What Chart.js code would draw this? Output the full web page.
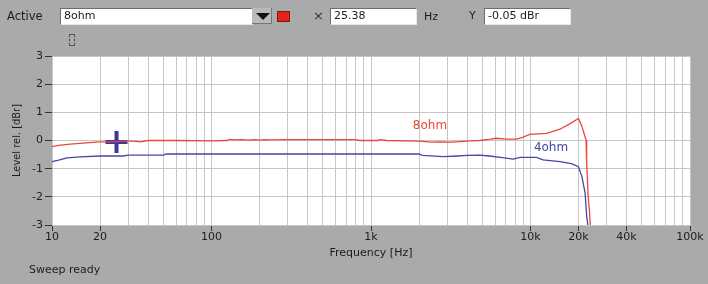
<!DOCTYPE html>
<html><head><meta charset="utf-8">
<script src="https://cdn.jsdelivr.net/npm/chart.js@4"></script>
<style>
html,body{margin:0;padding:0;}
body{width:708px;height:284px;background:#a9abab;position:relative;overflow:hidden;font-family:"DejaVu Sans",sans-serif;font-size:11px;color:#1c1c1c;}
canvas{position:absolute;left:0;top:0;}
.a{position:absolute;white-space:nowrap;line-height:14px;z-index:2;}
.box{position:absolute;z-index:2;background:#fff;border-top:1px solid #6d6d6d;border-left:1px solid #6d6d6d;border-bottom:1px solid #e8e8e8;border-right:1px solid #e8e8e8;box-sizing:border-box;padding-left:3px;line-height:14px;white-space:nowrap;}
</style></head>
<body>
<canvas id="c" width="708" height="284"></canvas>
<span class="a" style="left:7px;top:9px;font-size:11.5px">Active</span>
<div class="box" style="left:60px;top:8px;width:193px;height:17px;">8ohm</div>
<div class="a" style="left:252px;top:8px;width:20px;height:16px;background:#b9bbbb;border-right:1px solid #777;border-bottom:1px solid #777;box-sizing:border-box;"></div>
<div class="a" style="left:256px;top:13px;width:0;height:0;border-left:7px solid transparent;border-right:7px solid transparent;border-top:7px solid #111;"></div>
<div class="a" style="left:277px;top:11px;width:13px;height:11px;background:#e4231e;border:1px solid #7a1a14;box-sizing:border-box;"></div>
<span class="a" style="left:313px;top:9px;font-size:13px;color:#333">×</span>
<div class="box" style="left:330px;top:8px;width:87px;height:17px;">25.38</div>
<span class="a" style="left:424px;top:10px">Hz</span>
<span class="a" style="left:469px;top:9px">Y</span>
<div class="box" style="left:484px;top:8px;width:87px;height:17px;">-0.05 dBr</div>
<div class="a" style="left:69px;top:34px;width:6px;height:12px;border:1px dashed #555;box-sizing:border-box;"></div>
<span class="a" style="left:29px;top:263px">Sweep ready</span>
<script>
// ---- data ----
const freq8  = [10, 11, 13, 15, 18, 20, 24, 28, 32, 36, 40, 60, 100, 125, 130, 140, 155, 170, 185, 200, 215, 230, 300, 500, 800, 850, 1100, 1150, 1250, 2000, 2400, 2700, 3200, 3600, 4200, 4800, 5500, 6100, 7000, 8200, 9000, 9900, 12600, 14000, 15300, 17500, 20000, 21000, 22300, 22500, 23000, 23400, 23700];
const level8 = [-0.22, -0.17, -0.13, -0.10, -0.07, -0.05, -0.05, -0.02, -0.02, -0.05, 0, 0, -0.01, 0, 0.04, 0.02, 0.03, 0.01, 0.03, 0.01, 0.03, 0.02, 0.03, 0.03, 0.03, 0, 0, 0.03, 0, -0.02, -0.06, -0.05, -0.06, -0.04, -0.01, 0, 0.04, 0.08, 0.05, 0.05, 0.12, 0.22, 0.25, 0.33, 0.40, 0.58, 0.78, 0.50, 0.02, -0.80, -2.00, -2.47, -3.0];
const freq4  = [10, 11, 12.4, 15, 20, 28, 30, 50, 52, 100, 1000, 2000, 2100, 2840, 3500, 4000, 4800, 5500, 6500, 7790, 8600, 10900, 12000, 15300, 18000, 20000, 21000, 22000, 22500, 22900];
const level4 = [-0.75, -0.70, -0.62, -0.58, -0.55, -0.55, -0.52, -0.52, -0.48, -0.48, -0.48, -0.48, -0.53, -0.57, -0.55, -0.53, -0.52, -0.55, -0.60, -0.66, -0.60, -0.60, -0.69, -0.75, -0.82, -0.93, -1.28, -1.87, -2.70, -3.0];
const cursorFreq = 25.38;
const cursorLevel = -0.05;
const xTickValues = [10, 20, 100, 1000, 10000, 20000, 40000, 100000];
const xTickLabels = ['10', '20', '100', '1k', '10k', '20k', '40k', '100k'];
const yMin = -3, yMax = 3;
const seriesNames = ['8ohm', '4ohm'];
const seriesLabelFreq = [1830, 10500];
const seriesLabelLevel = [0.51, -0.27];
// ---------------

const RED = '#e8483a', BLUE = '#4646a6';
const gridFreqs = [];
for (let d = 10; d < 100000; d *= 10) for (let m = 1; m <= 9; m++) gridFreqs.push(m * d);
gridFreqs.push(100000);
const labelOf = v => { const i = xTickValues.findIndex(t => Math.abs(t - v) < 1e-6 * t); return i >= 0 ? xTickLabels[i] : ''; };

const plotBg = {
  id: 'plotBg',
  beforeDraw(chart) {
    const {ctx, chartArea: a} = chart;
    ctx.save(); ctx.fillStyle = '#ffffff';
    ctx.fillRect(a.left, a.top, a.right - a.left, a.bottom - a.top);
    ctx.restore();
  }
};
const seriesText = {
  id: 'seriesText',
  afterDatasetsDraw(chart) {
    const {ctx, scales: {x, y}} = chart;
    ctx.save();
    ctx.font = '12px "DejaVu Sans", sans-serif';
    ctx.textAlign = 'left'; ctx.textBaseline = 'middle';
    const cols = [RED, BLUE];
    seriesNames.forEach((n, i) => {
      ctx.fillStyle = cols[i];
      ctx.fillText(n, x.getPixelForValue(seriesLabelFreq[i]), y.getPixelForValue(seriesLabelLevel[i]));
    });
    ctx.restore();
  }
};

new Chart(document.getElementById('c'), {
  type: 'line',
  data: {
    datasets: [
      { label: seriesNames[0], data: freq8.map((f, i) => ({x: f, y: level8[i]})), borderColor: RED, borderWidth: 1.3, pointRadius: 0, tension: 0 },
      { label: seriesNames[1], data: freq4.map((f, i) => ({x: f, y: level4[i]})), borderColor: BLUE, borderWidth: 1.3, pointRadius: 0, tension: 0 },
      { label: 'cursor', data: [{x: cursorFreq, y: cursorLevel}], showLine: false, pointStyle: 'cross', pointRadius: 11, borderWidth: 4, borderColor: '#3a3a98', backgroundColor: '#3a3a98' },
      { label: 'cursorDot', data: [{x: cursorFreq, y: cursorLevel}], showLine: false, pointStyle: 'circle', pointRadius: 2.5, borderWidth: 1, borderColor: '#c07a8a', backgroundColor: '#8a80b8' }
    ]
  },
  options: {
    responsive: false, animation: false, devicePixelRatio: 1,
    layout: { padding: { top: 56, right: 18, bottom: 19, left: 0 } },
    plugins: { legend: { display: false }, tooltip: { enabled: false } },
    scales: {
      x: {
        type: 'logarithmic', min: 10, max: 100000,
        afterFit(s) { s.height = 40; },
        afterBuildTicks(s) { s.ticks = gridFreqs.map(v => ({value: v})); },
        ticks: { autoSkip: false, maxRotation: 0, minRotation: 0, padding: 0, color: '#1c1c1c',
          font: { family: '"DejaVu Sans", sans-serif', size: 11 },
          callback: v => labelOf(v) },
        grid: { color: '#c6c6c6', lineWidth: 1, tickLength: 6,
          tickColor: c => (c.tick && labelOf(c.tick.value)) ? '#333333' : 'rgba(0,0,0,0)' },
        border: { display: true, color: '#c6c6c6' },
        title: { display: true, text: 'Frequency [Hz]', color: '#1c1c1c',
          font: { family: '"DejaVu Sans", sans-serif', size: 11 }, padding: { top: 0, bottom: 5 } }
      },
      y: {
        min: yMin, max: yMax,
        afterFit(s) { s.width = 52; },
        ticks: { stepSize: 1, padding: 2, color: '#1c1c1c',
          font: { family: '"DejaVu Sans", sans-serif', size: 11 } },
        grid: { color: '#c6c6c6', lineWidth: 1, tickLength: 7, tickColor: '#333333' },
        border: { display: true, color: '#c6c6c6' },
        title: { display: true, text: 'Level rel. [dBr]', color: '#1c1c1c',
          font: { family: '"Liberation Sans Narrow", "DejaVu Sans Condensed", sans-serif', size: 11 }, padding: { top: 11, bottom: 0 } }
      }
    }
  },
  plugins: [plotBg, seriesText]
});
</script>
</body></html>
